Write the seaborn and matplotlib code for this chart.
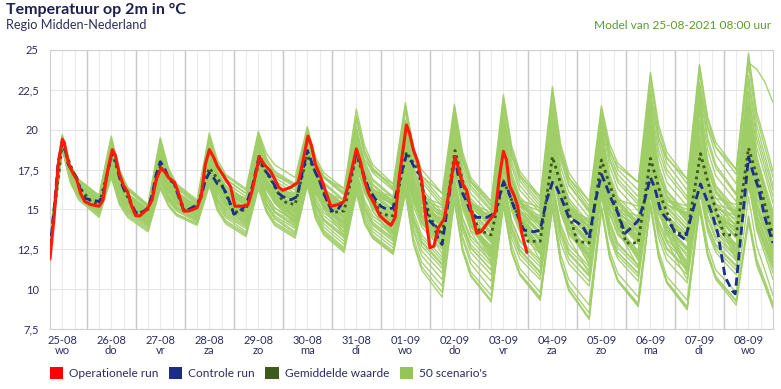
import numpy as np
import pandas as pd
import matplotlib.pyplot as plt
import seaborn as sns
from matplotlib.patches import Patch
from matplotlib.ticker import MultipleLocator

# x axis: hours since 25-08-2021 00:00
day_labels = ["25-08", "26-08", "27-08", "28-08", "29-08", "30-08", "31-08", "01-09",
              "02-09", "03-09", "04-09", "05-09", "06-09", "07-09", "08-09"]
weekday_labels = ["wo", "do", "vr", "za", "zo", "ma", "di", "wo",
                  "do", "vr", "za", "zo", "ma", "di", "wo"]

# operational run (red)
op_hours = [6, 8, 10, 12, 13, 15, 17.5, 19, 21, 23, 26, 30, 32, 34, 36.5, 38, 40, 42, 44, 46,
            48, 50, 53.5, 56, 58, 60.5, 62, 64, 67, 69, 71.5, 74, 78, 80, 82, 84, 86, 88, 90, 92,
            94.5, 96.5, 100, 103, 105, 108.5, 111, 114, 116, 118, 120, 124, 127.5, 129, 132.3,
            134, 136, 138, 140, 143.5, 147, 150, 152, 156, 158, 160, 162, 165, 167.5, 170, 173,
            175, 177, 180.5, 182, 184, 186, 188, 190, 192, 194, 196, 199, 201, 204.3, 206, 208,
            210, 212, 215, 217, 220.5, 224, 226, 228, 229.5, 231, 233.5, 235, 237, 239.5]
op_temps = [11.9, 14.5, 17.8, 19.4, 19.2, 17.9, 17.2, 16.9, 16.0, 15.5, 15.3, 15.2, 15.6, 17.3,
            18.75, 18.4, 17.2, 16.5, 16.1, 15.2, 14.6, 14.6, 15.0, 15.6, 16.9, 17.6, 17.4, 17.0,
            16.7, 16.0, 14.9, 14.9, 15.1, 15.8, 17.8, 18.75, 18.3, 17.7, 17.3, 16.9, 16.4, 15.2,
            15.2, 15.3, 16.2, 18.3, 17.8, 17.4, 16.9, 16.4, 16.2, 16.4, 16.7, 17.5, 19.6, 19.0,
            17.8, 17.2, 16.5, 15.2, 15.3, 15.5, 16.5, 18.8, 18.0, 16.8, 16.0, 15.3, 14.6, 14.3,
            14.0, 14.5, 17.0, 20.3, 19.8, 18.7, 18.0, 16.8, 14.5, 12.6, 12.7, 13.8, 14.4, 15.8,
            18.3, 17.6, 16.6, 16.2, 15.0, 13.5, 13.6, 14.2, 14.8, 17.0, 18.65, 18.1, 16.5, 15.8,
            15.2, 13.5, 12.3]

# control run (dark blue)
ctrl_hours = [6, 8, 10, 12, 13, 15, 17.5, 19, 21, 23, 26, 30, 32, 34, 36.5, 38, 40, 42, 44, 46,
              48, 51, 54, 56, 58, 60, 62, 64, 67, 69, 71.5, 74, 78, 80, 82, 84, 86, 88, 90, 92,
              94.5, 96, 99, 102, 105, 108.5, 111, 114, 116, 118, 120, 124, 127, 129, 132, 134,
              136, 138, 140, 144, 147, 150, 152, 156, 158, 160, 162, 165, 168, 171, 174, 177,
              180.5, 183, 185, 187, 189, 191, 194, 196, 198, 201, 204.3, 206, 208, 210, 212, 215,
              220, 224, 226, 228, 230, 233, 236, 238, 243, 246, 249, 252, 254, 257, 260, 264,
              267, 270, 273, 276, 278, 281, 284, 287.5, 291, 294, 297, 300, 302, 305, 308, 312,
              317, 320, 324.5, 327, 330, 333, 336.5, 340, 341.5, 344, 348, 350, 353, 356, 360]
ctrl_temps = [12.5, 15.0, 18.0, 19.2, 19.0, 17.8, 17.3, 17.0, 16.2, 15.7, 15.6, 15.5, 15.9, 17.2,
              18.6, 18.2, 17.0, 16.3, 16.0, 15.3, 14.8, 14.8, 15.1, 15.9, 17.2, 18.0, 17.6, 17.0,
              16.6, 15.8, 14.9, 15.0, 15.3, 15.8, 16.8, 17.3, 17.0, 16.6, 16.5, 16.1, 15.3, 14.7,
              14.9, 15.3, 16.4, 18.4, 17.5, 17.0, 16.5, 16.0, 15.8, 15.6, 15.8, 17.0, 18.7, 18.0,
              17.3, 16.8, 16.0, 14.9, 15.0, 15.6, 16.5, 18.5, 17.9, 17.0, 16.3, 15.7, 15.2, 15.0,
              15.1, 16.8, 18.4, 18.0, 17.5, 17.2, 16.0, 14.4, 14.0, 13.2, 12.8, 15.5, 18.3, 17.0,
              16.0, 15.5, 14.8, 14.5, 14.5, 14.8, 15.8, 16.7, 16.3, 15.2, 14.3, 13.7, 13.6, 13.7,
              15.5, 16.7, 16.4, 15.5, 14.5, 14.2, 13.9, 13.2, 15.5, 17.2, 16.6, 15.6, 14.8, 13.5,
              13.9, 14.3, 15.5, 17.0, 16.4, 14.9, 14.4, 13.6, 13.1, 14.6, 16.6, 15.8, 14.8, 13.5,
              10.8, 9.9, 9.7, 13.0, 18.3, 17.4, 16.3, 14.5, 12.9]

# ensemble mean (dark green)
mean_hours = [6, 12, 17.5, 21, 26, 30, 36.5, 42, 48, 54, 60, 67, 72, 78, 84, 90, 96, 102, 108.5,
              114, 120, 126, 132, 138, 144, 150, 156, 162, 168, 174, 180.5, 186, 192, 198, 204.3,
              210, 216, 222, 228, 234, 240, 246, 252, 258, 264, 270, 276, 282, 288, 294, 300, 306,
              312, 318, 324.5, 330, 336, 342, 348, 354, 360]
mean_temps = [12.6, 19.1, 17.3, 16.3, 15.5, 15.3, 18.5, 16.3, 14.7, 15.0, 17.7, 16.5, 14.9, 15.2,
              17.6, 16.6, 14.8, 15.0, 18.0, 16.9, 15.5, 15.3, 18.4, 16.8, 14.8, 14.9, 18.4, 16.3,
              14.7, 14.6, 18.6, 17.5, 14.5, 13.4, 18.7, 15.8, 13.7, 13.4, 16.8, 15.0, 13.0, 13.0,
              18.3, 15.8, 13.0, 12.9, 18.1, 15.8, 12.9, 12.9, 18.2, 15.5, 13.5, 13.5, 18.5, 15.8,
              13.4, 13.4, 18.85, 16.3, 13.3]

# 50 scenarios: per day values at 06h, 12h, 16h and 20h, last value 09-09 00h
scen_phase_hours = [6, 12, 16, 20]
scenarios = [
    [12.6, 19.0, 17.1, 16.1, 15.1, 18.0, 16.2, 15.2, 14.3, 17.2, 15.9, 15.3, 14.6, 17.4, 15.9, 15.2, 14.4, 17.6, 15.9, 15.1, 14.2, 17.8, 15.8, 14.8, 13.8, 17.5, 15.6, 14.6, 13.6, 17.9, 15.2, 13.9, 12.5, 17.0, 14.5, 13.3, 12.0, 16.8, 14.3, 13.1, 11.8, 17.4, 14.8, 13.5, 12.2, 17.0, 14.3, 12.9, 11.5, 16.8, 14.7, 13.7, 12.6, 18.2, 15.1, 13.6, 12.0, 17.5, 15.0, 13.7, 12.4],
    [13.1, 19.4, 17.5, 16.6, 15.6, 18.9, 16.9, 15.9, 14.9, 18.6, 16.9, 16.0, 15.1, 18.8, 17.2, 16.4, 15.6, 19.0, 17.4, 16.6, 15.8, 19.3, 17.3, 16.3, 15.3, 19.8, 17.7, 16.6, 15.5, 20.1, 17.4, 16.0, 14.6, 20.0, 17.0, 15.5, 14.0, 19.8, 17.0, 15.6, 14.2, 20.5, 17.2, 15.5, 13.8, 19.6, 16.9, 15.5, 14.1, 20.8, 17.7, 16.1, 14.5, 21.2, 18.0, 16.4, 14.8, 21.5, 18.1, 16.3, 14.6],
    [12.9, 19.2, 17.3, 16.3, 15.3, 18.5, 16.6, 15.6, 14.6, 18.0, 16.4, 15.6, 14.8, 18.1, 16.5, 15.7, 14.9, 18.3, 16.7, 15.9, 15.1, 18.5, 16.6, 15.6, 14.6, 18.7, 16.7, 15.7, 14.7, 19.0, 16.3, 14.9, 13.5, 18.6, 16.0, 14.7, 13.4, 18.9, 16.2, 14.9, 13.5, 19.2, 16.3, 14.8, 13.3, 18.8, 16.2, 14.9, 13.6, 19.4, 16.6, 15.2, 13.8, 19.6, 16.8, 15.4, 14.0, 20.0, 17.1, 15.6, 14.1],
    [12.5, 18.9, 16.9, 15.9, 14.8, 17.4, 15.7, 14.9, 14.0, 16.8, 15.6, 15.0, 14.3, 16.8, 15.3, 14.6, 13.8, 16.9, 15.3, 14.5, 13.6, 17.0, 14.9, 13.9, 12.8, 16.6, 14.6, 13.6, 12.6, 16.5, 13.8, 12.4, 11.0, 16.0, 13.3, 11.9, 10.5, 15.8, 13.2, 11.9, 10.6, 15.6, 12.9, 11.6, 10.2, 15.8, 13.2, 11.9, 10.5, 15.9, 13.2, 11.8, 10.4, 16.2, 13.6, 12.3, 10.9, 16.8, 13.7, 12.2, 10.6],
    [13.0, 19.3, 17.4, 16.4, 15.4, 18.7, 16.8, 15.8, 14.8, 18.3, 16.7, 15.9, 15.0, 18.4, 16.9, 16.1, 15.3, 18.9, 17.3, 16.5, 15.6, 19.2, 17.1, 16.1, 15.0, 19.5, 17.4, 16.3, 15.2, 19.8, 16.9, 15.5, 14.0, 19.5, 16.7, 15.3, 13.9, 19.7, 16.9, 15.5, 14.1, 20.0, 16.8, 15.2, 13.6, 19.5, 16.7, 15.3, 13.9, 20.3, 17.3, 15.8, 14.2, 20.5, 17.5, 16.0, 14.5, 20.9, 17.7, 16.1, 14.4],
    [12.7, 19.1, 17.2, 16.2, 15.2, 18.2, 16.4, 15.4, 14.5, 17.6, 16.2, 15.4, 14.7, 17.8, 16.3, 15.5, 14.7, 18.0, 16.4, 15.6, 14.8, 18.1, 16.2, 15.2, 14.2, 18.2, 16.3, 15.3, 14.3, 18.5, 15.8, 14.4, 13.0, 18.0, 15.4, 14.0, 12.7, 18.0, 15.3, 14.0, 12.6, 18.2, 15.4, 13.9, 12.5, 17.8, 15.1, 13.8, 12.4, 18.0, 15.3, 14.0, 12.6, 18.4, 15.6, 14.2, 12.8, 18.6, 15.8, 14.4, 13.0],
    [13.3, 19.5, 17.7, 16.8, 15.8, 19.5, 17.4, 16.3, 15.2, 19.2, 17.3, 16.4, 15.4, 19.4, 17.7, 16.9, 16.0, 19.6, 18.0, 17.2, 16.4, 20.0, 18.0, 17.0, 15.9, 20.6, 18.4, 17.3, 16.2, 21.2, 18.2, 16.7, 15.2, 21.0, 18.0, 16.5, 15.0, 21.5, 18.4, 16.8, 15.2, 21.8, 18.3, 16.6, 14.8, 20.8, 18.2, 16.9, 15.5, 22.5, 19.2, 17.5, 15.8, 23.0, 19.5, 17.8, 16.0, 23.4, 19.8, 18.0, 16.2],
    [12.4, 18.9, 16.9, 15.9, 14.9, 17.8, 16.0, 15.0, 14.1, 17.1, 15.8, 15.1, 14.4, 17.2, 15.6, 14.8, 14.0, 17.3, 15.6, 14.8, 13.9, 17.4, 15.3, 14.3, 13.2, 17.0, 15.0, 14.0, 13.0, 17.2, 14.4, 13.0, 11.6, 16.8, 14.0, 12.6, 11.2, 16.5, 13.8, 12.4, 11.0, 16.4, 13.6, 12.2, 10.8, 16.2, 13.6, 12.3, 11.0, 16.3, 13.8, 12.5, 11.2, 16.6, 14.0, 12.7, 11.4, 17.0, 14.2, 12.8, 11.3],
    [12.8, 19.2, 17.3, 16.3, 15.3, 18.4, 16.5, 15.6, 14.6, 18.0, 16.5, 15.7, 14.9, 18.2, 16.6, 15.8, 15.0, 18.5, 16.9, 16.1, 15.3, 18.9, 17.0, 16.0, 15.0, 19.2, 17.3, 16.3, 15.3, 19.6, 16.9, 15.6, 14.2, 19.0, 16.7, 15.5, 14.3, 19.3, 16.7, 15.4, 14.0, 18.9, 16.2, 14.9, 13.5, 18.6, 15.9, 14.6, 13.2, 18.3, 15.7, 14.4, 13.0, 18.0, 15.4, 14.1, 12.8, 17.6, 15.1, 13.9, 12.6],
    [12.6, 19.0, 17.0, 16.0, 15.0, 18.1, 16.5, 15.7, 14.9, 18.6, 16.6, 15.6, 14.5, 17.3, 16.4, 15.9, 15.4, 19.1, 16.8, 15.6, 14.4, 17.6, 16.4, 15.8, 15.2, 19.6, 16.6, 15.1, 13.6, 17.4, 16.1, 15.5, 14.8, 20.2, 16.1, 14.1, 12.0, 16.9, 15.8, 15.2, 14.6, 20.6, 16.2, 14.0, 11.8, 16.6, 15.5, 14.9, 14.3, 21.0, 16.3, 14.0, 11.6, 17.0, 15.7, 15.1, 14.4, 21.6, 17.4, 15.3, 13.2],
    [13.0, 19.4, 17.5, 16.5, 15.5, 18.8, 16.6, 15.5, 14.3, 17.5, 16.4, 15.8, 15.2, 18.9, 16.6, 15.4, 14.2, 17.5, 16.7, 16.3, 15.9, 19.6, 16.6, 15.1, 13.6, 17.8, 16.7, 16.2, 15.6, 20.3, 16.5, 14.6, 12.6, 17.3, 16.0, 15.3, 14.6, 20.4, 16.4, 14.4, 12.3, 17.0, 15.6, 14.9, 14.2, 20.2, 16.0, 13.9, 11.8, 16.8, 15.8, 15.3, 14.8, 22.0, 17.0, 14.5, 12.0, 16.5, 14.0, 12.7, 11.4],
    [12.9, 19.3, 17.4, 16.4, 15.4, 18.6, 16.7, 15.7, 14.7, 18.1, 16.5, 15.7, 14.9, 18.3, 16.7, 15.9, 15.1, 18.4, 16.7, 15.9, 15.0, 18.6, 16.7, 15.8, 14.8, 18.8, 16.9, 15.9, 14.9, 19.0, 16.3, 15.0, 13.6, 18.5, 15.8, 14.5, 13.1, 18.6, 15.9, 14.6, 13.2, 18.7, 15.9, 14.4, 13.0, 18.3, 15.7, 14.4, 13.1, 18.6, 16.0, 14.6, 13.3, 18.9, 16.2, 14.9, 13.5, 19.2, 16.4, 15.0, 13.6],
    [12.3, 18.8, 16.7, 15.7, 14.6, 17.1, 15.4, 14.6, 13.7, 16.4, 15.3, 14.7, 14.1, 16.6, 15.0, 14.2, 13.4, 16.4, 14.9, 14.1, 13.3, 16.6, 14.5, 13.5, 12.4, 16.0, 14.2, 13.3, 12.3, 16.2, 13.2, 11.7, 10.2, 15.6, 12.6, 11.1, 9.6, 15.3, 12.4, 11.0, 9.5, 15.1, 11.7, 10.0, 8.2, 15.0, 12.0, 10.5, 9.0, 15.2, 12.0, 10.4, 8.8, 15.0, 12.1, 10.7, 9.2, 14.4, 11.7, 10.3, 8.9],
    [13.2, 19.6, 17.7, 16.7, 15.7, 19.2, 17.2, 16.2, 15.1, 19.0, 17.2, 16.3, 15.3, 19.3, 17.6, 16.7, 15.8, 19.4, 17.8, 17.0, 16.2, 19.8, 17.7, 16.7, 15.6, 20.2, 18.0, 16.9, 15.8, 20.6, 17.7, 16.3, 14.8, 20.5, 17.7, 16.3, 14.9, 21.0, 18.0, 16.5, 15.0, 21.2, 18.1, 16.5, 14.9, 20.9, 18.1, 16.7, 15.3, 21.8, 18.7, 17.2, 15.6, 22.5, 19.2, 17.6, 15.9, 23.0, 19.4, 17.6, 15.8],
    [12.7, 19.1, 17.2, 16.2, 15.2, 18.3, 16.4, 15.5, 14.5, 17.8, 16.3, 15.5, 14.7, 17.9, 16.4, 15.6, 14.8, 18.2, 16.6, 15.7, 14.9, 18.3, 16.4, 15.4, 14.4, 18.4, 16.4, 15.4, 14.4, 18.7, 16.0, 14.6, 13.2, 18.3, 15.6, 14.3, 12.9, 18.4, 15.6, 14.2, 12.8, 18.4, 15.6, 14.2, 12.7, 18.1, 15.5, 14.2, 12.8, 18.5, 15.8, 14.4, 13.0, 18.6, 15.9, 14.6, 13.2, 18.9, 16.1, 14.7, 13.2],
    [12.9, 19.3, 17.4, 16.4, 15.4, 18.6, 16.7, 15.8, 14.8, 18.3, 16.7, 15.9, 15.0, 18.5, 16.9, 16.1, 15.2, 18.6, 16.9, 16.1, 15.2, 18.9, 16.9, 15.9, 14.8, 19.0, 17.0, 16.0, 14.9, 19.3, 16.6, 15.2, 13.8, 19.1, 16.4, 15.0, 13.6, 19.1, 16.4, 15.0, 13.6, 19.3, 16.4, 14.9, 13.4, 18.9, 16.2, 14.9, 13.5, 19.2, 16.5, 15.1, 13.7, 19.4, 16.7, 15.3, 13.9, 19.7, 16.9, 15.5, 14.0],
    [12.5, 18.9, 16.9, 15.9, 14.9, 17.6, 15.9, 15.1, 14.2, 17.2, 15.8, 15.1, 14.4, 17.2, 15.7, 15.0, 14.2, 17.4, 15.8, 14.9, 14.1, 17.4, 15.4, 14.4, 13.4, 17.1, 15.2, 14.2, 13.2, 17.2, 14.5, 13.2, 11.8, 16.6, 14.1, 12.8, 11.5, 16.6, 14.0, 12.7, 11.4, 16.5, 13.9, 12.5, 11.2, 16.4, 13.9, 12.6, 11.3, 16.6, 14.1, 12.9, 11.6, 16.9, 14.4, 13.1, 11.8, 17.2, 14.5, 13.1, 11.7],
    [13.1, 19.5, 17.6, 16.6, 15.6, 19.0, 17.0, 16.0, 15.0, 18.8, 17.0, 16.1, 15.2, 19.0, 17.3, 16.4, 15.5, 19.0, 17.4, 16.6, 15.7, 19.4, 17.4, 16.3, 15.3, 19.6, 17.5, 16.5, 15.4, 20.0, 17.2, 15.8, 14.4, 19.8, 17.1, 15.7, 14.3, 20.1, 17.3, 15.8, 14.4, 20.3, 17.2, 15.7, 14.1, 19.9, 17.2, 15.8, 14.4, 20.6, 17.7, 16.2, 14.7, 21.1, 18.1, 16.5, 15.0, 21.5, 18.2, 16.6, 14.9],
    [12.8, 19.2, 17.3, 16.3, 15.3, 18.4, 16.5, 15.6, 14.6, 17.9, 16.4, 15.6, 14.8, 18.0, 16.5, 15.7, 14.9, 18.2, 16.6, 15.8, 15.0, 18.4, 16.5, 15.5, 14.5, 18.5, 16.5, 15.5, 14.5, 18.8, 16.0, 14.6, 13.2, 18.5, 15.8, 14.4, 13.0, 18.5, 15.8, 14.4, 13.0, 18.5, 15.7, 14.3, 12.8, 18.2, 15.6, 14.3, 12.9, 18.5, 15.8, 14.4, 13.0, 18.7, 16.0, 14.6, 13.2, 19.0, 16.2, 14.8, 13.3],
    [12.6, 19.0, 17.1, 16.1, 15.1, 18.0, 16.5, 15.7, 14.9, 18.7, 16.7, 15.7, 14.6, 17.6, 16.6, 16.1, 15.5, 19.3, 16.7, 15.4, 14.1, 17.1, 16.0, 15.5, 14.9, 19.1, 16.3, 14.9, 13.4, 16.9, 15.7, 15.1, 14.4, 19.6, 15.6, 13.6, 11.6, 16.4, 15.3, 14.7, 14.1, 19.8, 15.4, 13.2, 11.0, 16.0, 14.9, 14.4, 13.8, 20.2, 15.4, 13.0, 10.6, 15.8, 14.9, 14.4, 13.9, 20.6, 16.5, 14.5, 12.4],
    [12.9, 19.3, 17.4, 16.4, 15.4, 18.5, 16.5, 15.5, 14.4, 17.5, 16.3, 15.6, 15.0, 18.6, 16.6, 15.6, 14.6, 17.8, 16.7, 16.1, 15.5, 19.3, 16.7, 15.3, 14.0, 18.0, 16.7, 16.0, 15.3, 19.9, 16.5, 14.7, 13.0, 17.9, 16.2, 15.3, 14.4, 20.2, 16.4, 14.5, 12.6, 17.4, 15.7, 14.8, 13.9, 19.9, 16.1, 14.1, 12.2, 17.4, 16.0, 15.3, 14.6, 21.5, 17.0, 14.7, 12.4, 17.2, 14.6, 13.3, 12.0],
    [12.4, 18.8, 16.8, 15.8, 14.7, 17.3, 15.6, 14.8, 13.9, 16.7, 15.5, 14.9, 14.2, 16.9, 15.3, 14.5, 13.6, 16.8, 15.2, 14.4, 13.5, 16.9, 14.8, 13.7, 12.6, 16.4, 14.4, 13.4, 12.4, 16.6, 13.6, 12.1, 10.6, 16.2, 13.1, 11.6, 10.0, 15.7, 12.8, 11.3, 9.8, 15.4, 12.2, 10.6, 9.0, 15.2, 12.4, 11.0, 9.5, 15.4, 12.4, 10.8, 9.3, 15.5, 12.7, 11.2, 9.8, 15.8, 12.7, 11.2, 9.6],
    [13.2, 19.6, 17.7, 16.8, 15.8, 19.4, 17.4, 16.3, 15.3, 19.4, 17.5, 16.5, 15.5, 19.6, 17.9, 17.1, 16.2, 19.8, 18.2, 17.4, 16.6, 20.1, 18.1, 17.1, 16.1, 20.9, 18.7, 17.6, 16.4, 21.5, 18.6, 17.1, 15.6, 21.4, 18.4, 16.8, 15.3, 22.0, 18.8, 17.2, 15.6, 22.5, 18.9, 17.0, 15.2, 21.3, 18.8, 17.5, 16.2, 23.4, 20.0, 18.3, 16.6, 24.0, 20.6, 18.9, 17.2, 24.6, 20.8, 18.9, 17.0],
    [12.7, 19.1, 17.2, 16.2, 15.2, 18.2, 16.5, 15.6, 14.7, 18.2, 16.5, 15.7, 14.8, 17.7, 16.4, 15.8, 15.1, 18.6, 16.6, 15.6, 14.6, 17.9, 16.4, 15.6, 14.8, 18.9, 16.5, 15.3, 14.0, 18.0, 16.0, 15.0, 14.0, 19.2, 15.9, 14.2, 12.5, 17.6, 15.6, 14.6, 13.6, 19.4, 15.8, 14.0, 12.2, 17.2, 15.3, 14.4, 13.4, 19.6, 15.8, 13.9, 12.0, 17.4, 15.6, 14.7, 13.8, 20.1, 16.5, 14.7, 12.8],
    [13.0, 19.4, 17.5, 16.5, 15.5, 18.8, 16.6, 15.5, 14.4, 17.4, 16.3, 15.7, 15.1, 18.7, 16.6, 15.6, 14.5, 17.6, 16.6, 16.1, 15.6, 19.5, 16.7, 15.3, 13.9, 17.6, 16.5, 16.0, 15.4, 20.0, 16.4, 14.6, 12.8, 17.6, 16.1, 15.3, 14.5, 20.6, 16.5, 14.5, 12.4, 17.1, 15.6, 14.8, 14.0, 20.4, 16.2, 14.1, 11.9, 16.9, 16.0, 15.5, 15.0, 22.4, 17.3, 14.8, 12.2, 16.7, 14.2, 12.9, 11.6],
    [12.8, 19.2, 17.3, 16.3, 15.3, 18.4, 16.5, 15.6, 14.6, 17.9, 16.4, 15.6, 14.8, 18.0, 16.5, 15.7, 14.9, 18.1, 16.6, 15.9, 15.1, 18.3, 16.5, 15.6, 14.6, 18.4, 16.6, 15.6, 14.7, 18.6, 16.0, 14.7, 13.4, 18.2, 15.7, 14.5, 13.2, 18.3, 15.8, 14.5, 13.2, 18.1, 15.6, 14.4, 13.1, 17.9, 15.6, 14.4, 13.2, 18.0, 15.7, 14.6, 13.4, 18.2, 15.9, 14.8, 13.6, 18.5, 16.1, 14.9, 13.7],
    [12.5, 18.9, 16.9, 15.9, 14.8, 17.5, 15.8, 14.9, 14.0, 16.9, 15.6, 15.0, 14.3, 17.0, 15.5, 14.7, 13.9, 17.0, 15.4, 14.6, 13.8, 17.1, 15.1, 14.1, 13.0, 16.8, 14.8, 13.8, 12.8, 16.9, 14.1, 12.7, 11.3, 16.4, 13.7, 12.3, 10.9, 16.2, 13.5, 12.2, 10.8, 16.0, 13.3, 11.9, 10.5, 16.0, 13.4, 12.1, 10.8, 16.1, 13.5, 12.2, 10.9, 16.4, 13.8, 12.5, 11.2, 16.8, 13.9, 12.5, 11.0],
    [13.1, 19.5, 17.6, 16.6, 15.6, 19.0, 17.0, 16.0, 15.0, 18.9, 17.1, 16.1, 15.2, 19.1, 17.4, 16.5, 15.6, 19.2, 17.6, 16.8, 16.0, 19.7, 17.6, 16.6, 15.5, 20.0, 17.9, 16.8, 15.7, 20.4, 17.5, 16.1, 14.6, 20.2, 17.4, 16.0, 14.6, 20.5, 17.7, 16.2, 14.8, 20.9, 17.7, 16.1, 14.5, 20.4, 17.7, 16.3, 14.9, 21.3, 18.3, 16.7, 15.2, 21.8, 18.7, 17.1, 15.5, 22.4, 18.9, 17.2, 15.4],
    [12.7, 19.1, 17.2, 16.2, 15.2, 18.2, 16.4, 15.4, 14.5, 17.7, 16.2, 15.5, 14.7, 17.8, 16.3, 15.5, 14.7, 18.0, 16.4, 15.6, 14.8, 18.2, 16.3, 15.3, 14.3, 18.2, 16.2, 15.2, 14.2, 18.4, 15.7, 14.3, 12.9, 18.0, 15.3, 14.0, 12.6, 18.0, 15.3, 13.9, 12.5, 17.9, 15.2, 13.8, 12.4, 17.7, 15.1, 13.8, 12.4, 17.9, 15.2, 13.9, 12.5, 18.1, 15.4, 14.1, 12.7, 18.3, 15.5, 14.1, 12.6],
    [12.9, 19.3, 17.4, 16.4, 15.4, 18.6, 16.8, 15.9, 14.9, 18.4, 16.6, 15.7, 14.7, 17.9, 16.6, 16.0, 15.3, 18.8, 16.7, 15.6, 14.5, 17.7, 16.4, 15.8, 15.1, 19.3, 16.6, 15.2, 13.8, 17.6, 15.9, 15.1, 14.2, 19.5, 15.9, 14.1, 12.3, 17.3, 15.9, 15.2, 14.4, 20.0, 16.0, 14.0, 12.0, 16.8, 15.4, 14.7, 14.0, 20.5, 16.0, 13.7, 11.4, 16.6, 15.6, 15.1, 14.6, 21.0, 16.8, 14.7, 12.6],
    [12.6, 19.0, 17.1, 16.1, 15.1, 18.0, 16.2, 15.3, 14.4, 17.5, 16.1, 15.4, 14.6, 17.6, 16.1, 15.3, 14.5, 17.7, 16.2, 15.4, 14.6, 17.9, 16.0, 15.1, 14.1, 17.9, 16.0, 15.1, 14.1, 18.2, 15.5, 14.1, 12.7, 17.6, 15.0, 13.7, 12.4, 17.6, 14.9, 13.6, 12.2, 17.5, 14.8, 13.4, 12.0, 17.2, 14.7, 13.4, 12.1, 17.4, 14.8, 13.5, 12.2, 17.6, 15.0, 13.7, 12.3, 17.9, 15.1, 13.7, 12.3],
    [13.0, 19.4, 17.5, 16.5, 15.5, 18.9, 16.9, 15.9, 14.9, 18.5, 16.8, 16.0, 15.1, 18.7, 17.1, 16.3, 15.4, 18.9, 17.2, 16.4, 15.5, 19.1, 17.1, 16.1, 15.1, 19.4, 17.3, 16.3, 15.2, 19.7, 16.9, 15.5, 14.1, 19.4, 16.7, 15.4, 14.0, 19.6, 16.8, 15.4, 14.0, 19.8, 16.8, 15.3, 13.8, 19.4, 16.7, 15.4, 14.0, 19.9, 17.1, 15.7, 14.3, 20.3, 17.5, 16.1, 14.6, 20.6, 17.6, 16.1, 14.5],
    [12.8, 19.2, 17.1, 16.1, 15.0, 17.9, 16.4, 15.6, 14.8, 18.5, 16.5, 15.5, 14.5, 17.4, 16.5, 16.1, 15.6, 19.0, 16.6, 15.4, 14.2, 17.3, 16.4, 15.9, 15.4, 19.9, 16.6, 14.9, 13.2, 17.0, 16.1, 15.6, 15.1, 20.6, 16.2, 14.0, 11.8, 16.6, 15.8, 15.4, 14.9, 21.0, 16.3, 13.9, 11.5, 16.2, 15.4, 15.0, 14.6, 21.4, 16.2, 13.6, 11.0, 16.4, 15.7, 15.3, 14.9, 21.8, 17.9, 15.9, 13.9],
    [12.6, 19.0, 17.3, 16.5, 15.6, 18.9, 16.6, 15.4, 14.2, 17.3, 16.3, 15.8, 15.3, 19.0, 16.5, 15.3, 14.0, 17.2, 16.6, 16.3, 16.0, 19.7, 16.6, 15.0, 13.4, 17.4, 16.6, 16.2, 15.8, 20.6, 16.4, 14.3, 12.2, 17.1, 16.0, 15.4, 14.8, 21.1, 16.5, 14.2, 11.8, 16.8, 15.6, 15.0, 14.4, 20.6, 16.0, 13.7, 11.4, 16.5, 15.9, 15.6, 15.2, 22.8, 17.3, 14.6, 11.8, 16.4, 15.6, 15.2, 14.8],
    [12.7, 19.1, 17.2, 16.3, 15.3, 18.3, 16.5, 15.6, 14.6, 17.8, 16.3, 15.6, 14.8, 17.9, 16.4, 15.6, 14.8, 18.1, 16.5, 15.7, 14.9, 18.3, 16.4, 15.5, 14.5, 18.4, 16.5, 15.5, 14.5, 18.7, 16.0, 14.7, 13.3, 18.4, 15.8, 14.5, 13.1, 18.4, 15.7, 14.4, 13.0, 18.6, 15.8, 14.4, 12.9, 18.2, 15.6, 14.3, 13.0, 18.6, 15.9, 14.5, 13.1, 18.8, 16.1, 14.7, 13.3, 19.1, 16.3, 14.9, 13.4],
    [12.4, 18.8, 16.8, 15.8, 14.7, 17.2, 15.5, 14.7, 13.8, 16.5, 15.3, 14.7, 14.1, 16.6, 15.1, 14.3, 13.5, 16.6, 15.0, 14.2, 13.4, 16.8, 14.7, 13.6, 12.5, 16.2, 14.2, 13.2, 12.2, 16.1, 12.8, 11.2, 9.5, 15.5, 12.4, 10.9, 9.3, 15.2, 12.3, 10.9, 9.4, 15.0, 11.8, 10.2, 8.5, 15.1, 12.0, 10.5, 8.9, 15.2, 12.0, 10.4, 8.7, 15.1, 12.1, 10.6, 9.0, 14.2, 11.5, 10.2, 8.8],
    [13.2, 19.6, 17.7, 16.8, 15.8, 19.4, 17.3, 16.3, 15.2, 19.3, 17.4, 16.4, 15.4, 19.5, 17.8, 16.9, 16.0, 19.7, 18.1, 17.3, 16.5, 20.0, 18.0, 17.0, 16.0, 20.8, 18.6, 17.5, 16.3, 21.3, 18.4, 16.9, 15.4, 21.2, 18.2, 16.7, 15.2, 21.8, 18.6, 17.0, 15.4, 22.2, 18.6, 16.8, 15.0, 21.1, 18.5, 17.2, 15.8, 23.0, 19.6, 17.9, 16.2, 23.6, 20.1, 18.4, 16.6, 24.1, 20.3, 18.4, 16.5],
    [12.9, 19.3, 17.4, 16.4, 15.4, 18.5, 16.6, 15.7, 14.7, 18.0, 16.5, 15.7, 14.9, 18.1, 16.6, 15.8, 15.0, 18.4, 16.8, 16.0, 15.2, 18.7, 16.8, 15.8, 14.8, 18.9, 16.9, 15.9, 14.8, 19.2, 16.4, 15.0, 13.6, 18.8, 16.2, 14.9, 13.5, 18.9, 16.2, 14.8, 13.4, 19.0, 16.1, 14.7, 13.2, 18.6, 16.0, 14.7, 13.3, 18.9, 16.2, 14.9, 13.5, 19.1, 16.4, 15.1, 13.7, 19.4, 16.6, 15.2, 13.8],
    [12.5, 18.9, 16.9, 15.9, 14.9, 17.7, 16.0, 15.1, 14.2, 17.3, 15.9, 15.2, 14.5, 17.4, 15.9, 15.1, 14.3, 17.5, 15.9, 15.1, 14.3, 17.6, 15.6, 14.6, 13.6, 17.4, 15.4, 14.4, 13.4, 17.6, 14.8, 13.4, 12.0, 17.0, 14.4, 13.1, 11.7, 16.9, 14.3, 13.0, 11.6, 16.8, 14.1, 12.8, 11.4, 16.6, 14.1, 12.8, 11.5, 16.8, 14.3, 13.1, 11.8, 17.1, 14.6, 13.3, 12.0, 17.4, 14.7, 13.3, 11.9],
    [13.0, 19.4, 17.5, 16.5, 15.5, 18.7, 16.8, 15.8, 14.8, 18.3, 16.7, 15.9, 15.0, 18.5, 16.9, 16.1, 15.3, 18.7, 17.1, 16.3, 15.4, 19.0, 17.0, 16.0, 14.9, 19.3, 17.2, 16.1, 15.0, 19.6, 16.8, 15.4, 13.9, 19.3, 16.6, 15.2, 13.8, 19.4, 16.6, 15.2, 13.8, 19.6, 16.6, 15.1, 13.6, 19.2, 16.5, 15.1, 13.7, 19.6, 16.8, 15.4, 14.0, 19.9, 17.1, 15.7, 14.2, 20.2, 17.2, 15.7, 14.2],
    [12.7, 19.1, 17.2, 16.2, 15.2, 18.3, 16.6, 15.7, 14.8, 18.4, 16.5, 15.6, 14.6, 17.7, 16.5, 15.9, 15.3, 18.9, 16.6, 15.5, 14.3, 17.5, 16.4, 15.8, 15.2, 19.4, 16.6, 15.2, 13.7, 17.5, 16.1, 15.4, 14.6, 19.9, 16.0, 14.1, 12.1, 17.0, 15.6, 14.9, 14.2, 20.1, 15.9, 13.8, 11.6, 16.4, 15.0, 14.3, 13.6, 20.0, 15.6, 13.4, 11.2, 16.3, 15.2, 14.7, 14.1, 20.8, 16.5, 14.4, 12.2],
    [12.9, 19.3, 17.4, 16.5, 15.5, 18.7, 16.5, 15.4, 14.3, 17.4, 16.3, 15.7, 15.1, 18.8, 16.6, 15.5, 14.3, 17.6, 16.7, 16.2, 15.7, 19.4, 16.6, 15.2, 13.8, 17.7, 16.6, 16.1, 15.5, 20.1, 16.4, 14.6, 12.7, 17.5, 16.0, 15.3, 14.5, 20.3, 16.3, 14.3, 12.2, 17.2, 15.8, 15.1, 14.3, 20.1, 16.1, 14.1, 12.0, 17.1, 15.9, 15.3, 14.7, 21.7, 17.1, 14.8, 12.5, 17.3, 14.7, 13.4, 12.1],
    [12.3, 18.8, 16.7, 15.6, 14.5, 17.0, 15.3, 14.5, 13.6, 16.3, 15.2, 14.6, 14.0, 16.5, 14.9, 14.1, 13.3, 16.3, 14.8, 14.0, 13.2, 16.5, 14.4, 13.4, 12.3, 16.0, 14.1, 13.2, 12.2, 16.0, 12.9, 11.4, 9.8, 15.6, 12.4, 10.8, 9.2, 15.4, 12.4, 10.9, 9.3, 15.2, 11.7, 9.9, 8.1, 15.0, 12.1, 10.6, 9.1, 15.3, 12.1, 10.5, 8.9, 15.2, 12.3, 10.8, 9.3, 14.6, 11.9, 10.5, 9.1],
    [13.3, 19.7, 17.8, 16.9, 15.9, 19.6, 17.5, 16.4, 15.3, 19.5, 17.6, 16.6, 15.6, 19.8, 18.1, 17.2, 16.3, 19.9, 18.5, 17.8, 17.0, 20.2, 18.3, 17.3, 16.3, 21.3, 19.0, 17.8, 16.6, 21.7, 18.9, 17.5, 16.0, 21.6, 18.6, 17.0, 15.5, 22.2, 19.0, 17.4, 15.8, 22.7, 19.1, 17.3, 15.5, 21.5, 19.1, 17.9, 16.7, 23.6, 20.3, 18.6, 16.9, 24.1, 20.8, 19.2, 17.5, 24.8, 21.1, 19.3, 17.4],
    [12.8, 19.2, 17.3, 16.3, 15.3, 18.4, 16.5, 15.6, 14.6, 18.0, 16.4, 15.6, 14.8, 18.0, 16.5, 15.7, 14.9, 18.3, 16.7, 15.9, 15.0, 18.5, 16.6, 15.6, 14.6, 18.6, 16.6, 15.6, 14.6, 18.9, 16.1, 14.7, 13.3, 18.6, 15.9, 14.5, 13.1, 18.7, 15.9, 14.5, 13.1, 18.8, 15.9, 14.4, 12.9, 18.4, 15.7, 14.4, 13.0, 18.7, 15.9, 14.5, 13.1, 19.0, 16.2, 14.8, 13.3, 19.3, 16.4, 14.9, 13.4],
    [12.6, 19.0, 17.1, 16.1, 15.1, 18.1, 16.3, 15.3, 14.4, 17.6, 16.1, 15.4, 14.6, 17.6, 16.1, 15.4, 14.6, 17.8, 16.3, 15.5, 14.7, 17.9, 16.1, 15.2, 14.2, 18.0, 16.1, 15.2, 14.2, 18.3, 15.6, 14.2, 12.8, 17.8, 15.2, 13.9, 12.5, 17.8, 15.1, 13.8, 12.4, 17.7, 15.0, 13.6, 12.2, 17.4, 14.8, 13.5, 12.2, 17.6, 15.0, 13.7, 12.4, 17.8, 15.2, 13.9, 12.5, 18.1, 15.3, 13.9, 12.4],
    [13.0, 19.4, 17.5, 16.5, 15.5, 18.8, 16.9, 15.9, 14.9, 18.5, 16.8, 16.0, 15.1, 18.6, 17.0, 16.2, 15.4, 18.8, 17.2, 16.4, 15.5, 19.1, 17.2, 16.2, 15.2, 19.5, 17.4, 16.3, 15.2, 19.8, 17.0, 15.6, 14.2, 19.6, 16.9, 15.5, 14.1, 19.8, 17.0, 15.6, 14.2, 20.1, 17.0, 15.5, 13.9, 19.7, 17.0, 15.6, 14.2, 20.2, 17.3, 15.9, 14.4, 20.6, 17.7, 16.2, 14.7, 21.0, 17.9, 16.3, 14.7],
    [12.8, 19.2, 17.3, 16.3, 15.3, 18.4, 16.5, 15.6, 14.6, 17.9, 16.4, 15.7, 14.9, 18.1, 16.8, 16.1, 15.4, 18.4, 17.5, 17.1, 16.6, 18.8, 17.6, 17.0, 16.3, 19.6, 18.1, 17.4, 16.6, 20.4, 18.2, 17.1, 16.0, 20.6, 18.1, 16.8, 15.5, 20.8, 18.3, 17.1, 15.8, 21.4, 18.5, 17.0, 15.5, 20.6, 18.7, 17.7, 16.7, 22.0, 19.5, 18.2, 16.9, 22.8, 20.2, 18.9, 17.5, 24.2, 23.8, 23.0, 21.7],
    [12.5, 18.9, 16.9, 15.9, 14.8, 17.5, 15.8, 15.0, 14.1, 17.0, 15.7, 15.1, 14.4, 17.1, 15.6, 14.9, 14.1, 17.2, 15.6, 14.8, 14.0, 17.3, 15.3, 14.3, 13.3, 17.0, 15.1, 14.1, 13.1, 17.1, 14.3, 12.9, 11.5, 16.5, 13.9, 12.6, 11.2, 16.4, 13.8, 12.5, 11.1, 16.3, 13.6, 12.3, 10.9, 16.1, 13.6, 12.3, 11.0, 16.2, 13.8, 12.6, 11.3, 16.5, 14.0, 12.8, 11.5, 16.9, 14.2, 12.8, 11.4],
    [12.9, 19.3, 17.4, 16.4, 15.4, 18.6, 16.8, 15.9, 15.0, 18.7, 16.7, 15.7, 14.6, 17.6, 16.7, 16.2, 15.7, 19.3, 16.9, 15.7, 14.4, 17.4, 16.5, 16.1, 15.6, 20.0, 16.8, 15.2, 13.5, 17.3, 16.3, 15.8, 15.3, 20.8, 16.5, 14.4, 12.2, 16.8, 16.0, 15.6, 15.1, 21.4, 16.7, 14.3, 11.9, 16.6, 15.9, 15.6, 15.2, 22.2, 16.8, 14.1, 11.3, 16.8, 16.1, 15.7, 15.3, 22.4, 18.4, 16.4, 14.3],
]

n_days = len(day_labels)
scen_hours = ([24 * d + h for d in range(n_days) for h in scen_phase_hours]
              + [24 * n_days])

rows = []
for i, temps in enumerate(scenarios):
    for h, t in zip(scen_hours, temps):
        rows.append({"member": i, "hour": h, "temp": t})
scen_df = pd.DataFrame(rows)

sns.set_style("white")
plt.rcParams["font.family"] = ["Lato", "DejaVu Sans"]

fig = plt.figure(figsize=(7.81, 3.89), dpi=100)
ax = fig.add_axes([50 / 781, 60 / 389, 723 / 781, 279 / 389])

sns.lineplot(data=scen_df, x="hour", y="temp", units="member", estimator=None,
             color="#9fcd66", lw=1.0, alpha=0.9, ax=ax, legend=False, zorder=2)
sns.lineplot(x=mean_hours, y=mean_temps, color="#3b5a1c", lw=2.0,
             linestyle=(0, (1, 1.3)), ax=ax, zorder=3)
sns.lineplot(x=ctrl_hours, y=ctrl_temps, color="#1c2f8a", lw=2.0,
             linestyle=(0, (3, 1.6)), ax=ax, zorder=4)
sns.lineplot(x=op_hours, y=op_temps, color="#ff1a0a", lw=2.2, ax=ax, zorder=5)

ax.set_xlim(6, 24 * n_days)
ax.set_ylim(7.5, 25)

yt = np.arange(7.5, 25.01, 2.5)
ax.set_yticks(yt)
ax.set_yticklabels([f"{v:g}".replace(".", ",") for v in yt])
ax.set_xticks([24 * d + 12 for d in range(n_days)])
ax.set_xticklabels([f"{a}\n{b}" for a, b in zip(day_labels, weekday_labels)], linespacing=0.95)
ax.xaxis.set_minor_locator(MultipleLocator(6))
ax.xaxis.remove_overlapping_locs = False
ax.tick_params(axis="both", which="both", length=0, colors="#2b2d5e", labelsize=8)
ax.tick_params(axis="y", pad=8)
ax.tick_params(axis="x", pad=4)
ax.set_xlabel("")
ax.set_ylabel("")

ax.grid(False)
ax.grid(axis="y", color="#e4e4e4", lw=0.8, zorder=0)
ax.grid(axis="x", which="minor", color="#ececec", lw=0.8, zorder=0)
for d in range(1, n_days):
    ax.axvline(24 * d, color="#c9c9c9", lw=1.0, zorder=1)
for s in ax.spines.values():
    s.set_color("#cfcfcf")
    s.set_linewidth(0.8)

fig.text(6 / 781, 1 - 3 / 389, "Temperatuur op 2m in °C", ha="left", va="top",
         fontsize=11.5, fontweight="bold", color="#1d2050")
fig.text(6 / 781, 1 - 19 / 389, "Regio Midden-Nederland", ha="left", va="top",
         fontsize=9.2, color="#2e3060")
fig.text(771 / 781, 1 - 20 / 389, "Model van 25-08-2021 08:00 uur", ha="right", va="top",
         fontsize=8.6, color="#5c9c2e")

handles = [Patch(facecolor="#ff0000", edgecolor="none"),
           Patch(facecolor="#1b2d86", edgecolor="none"),
           Patch(facecolor="#3e5b1e", edgecolor="none"),
           Patch(facecolor="#95c45a", edgecolor="none")]
labels = ["Operationele run", "Controle run", "Gemiddelde waarde", "50 scenario's"]
fig.legend(handles, labels, loc="center left", bbox_to_anchor=(39 / 781, 1 - 373 / 389),
           ncol=4, frameon=False, handlelength=1.1, handleheight=1.1, handletextpad=0.5,
           columnspacing=0.9, fontsize=8.6, labelcolor="#2b2d5e")

fig.savefig("out.png", dpi=100)
